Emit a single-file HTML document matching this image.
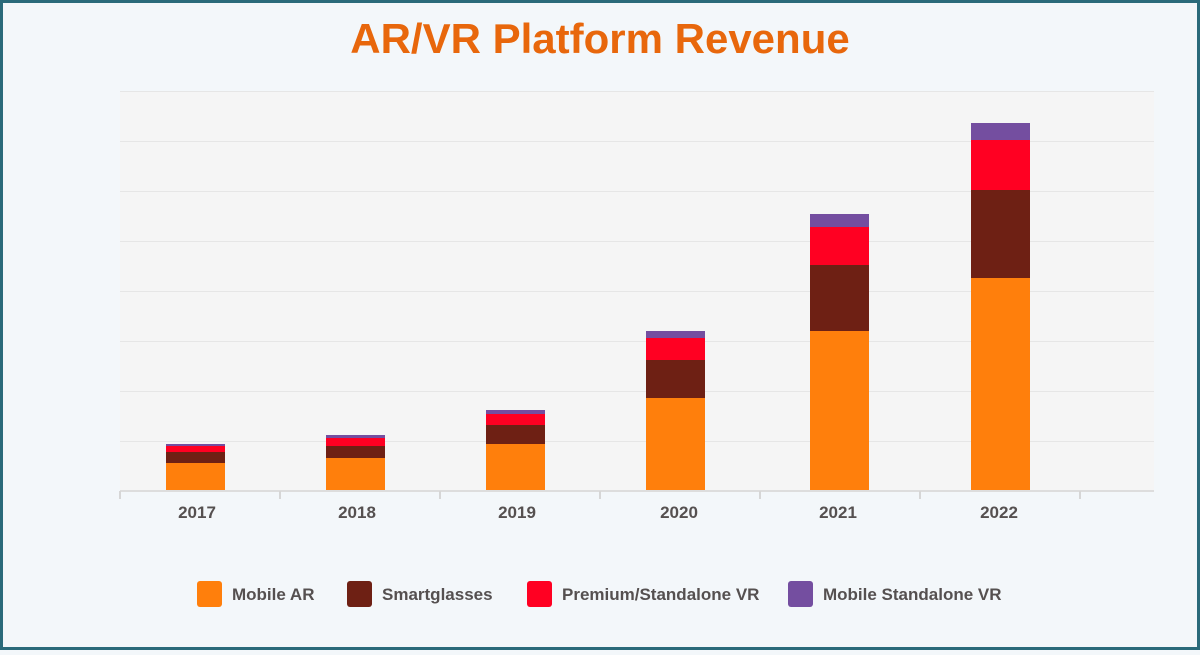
<!DOCTYPE html>
<html><head><meta charset="utf-8"><style>
html,body{margin:0;padding:0;}
body{width:1200px;height:650px;overflow:hidden;background:#f3f7fa;}
</style></head><body>
<svg width="1200" height="650" xmlns="http://www.w3.org/2000/svg" font-family="Liberation Sans, sans-serif">
<rect x="0" y="0" width="1200" height="650" fill="#2a6a7a"/>
<rect x="3" y="3" width="1194" height="644" fill="#f3f7fa"/>
<text x="600" y="53" text-anchor="middle" font-size="42" font-weight="bold" fill="#e8670c">AR/VR Platform Revenue</text>
<rect x="120" y="91" width="1034" height="400" fill="#f5f5f5"/>
<g stroke="#e6e6e6" stroke-width="1">
<line x1="120" y1="91.5" x2="1154" y2="91.5"/><line x1="120" y1="141.5" x2="1154" y2="141.5"/>
<line x1="120" y1="191.5" x2="1154" y2="191.5"/><line x1="120" y1="241.5" x2="1154" y2="241.5"/>
<line x1="120" y1="291.5" x2="1154" y2="291.5"/><line x1="120" y1="341.5" x2="1154" y2="341.5"/>
<line x1="120" y1="391.5" x2="1154" y2="391.5"/><line x1="120" y1="441.5" x2="1154" y2="441.5"/>
</g>
<line x1="120" y1="491" x2="1154" y2="491" stroke="#dddddd" stroke-width="2"/>
<g stroke="#d6d6d6" stroke-width="2">
<line x1="120" y1="491" x2="120" y2="499"/><line x1="280" y1="491" x2="280" y2="499"/>
<line x1="440" y1="491" x2="440" y2="499"/><line x1="600" y1="491" x2="600" y2="499"/>
<line x1="760" y1="491" x2="760" y2="499"/><line x1="920" y1="491" x2="920" y2="499"/>
<line x1="1080" y1="491" x2="1080" y2="499"/>
</g>
<!-- bars -->
<g>
<rect x="166" y="444" width="59" height="2" fill="#744ea0"/><rect x="166" y="446" width="59" height="6" fill="#ff0022"/><rect x="166" y="452" width="59" height="11" fill="#6e2014"/><rect x="166" y="463" width="59" height="27" fill="#ff7f0c"/>
<rect x="326" y="435" width="59" height="3" fill="#744ea0"/><rect x="326" y="438" width="59" height="8" fill="#ff0022"/><rect x="326" y="446" width="59" height="12" fill="#6e2014"/><rect x="326" y="458" width="59" height="32" fill="#ff7f0c"/>
<rect x="486" y="410" width="59" height="4" fill="#744ea0"/><rect x="486" y="414" width="59" height="11" fill="#ff0022"/><rect x="486" y="425" width="59" height="19" fill="#6e2014"/><rect x="486" y="444" width="59" height="46" fill="#ff7f0c"/>
<rect x="646" y="331" width="59" height="7" fill="#744ea0"/><rect x="646" y="338" width="59" height="22" fill="#ff0022"/><rect x="646" y="360" width="59" height="38" fill="#6e2014"/><rect x="646" y="398" width="59" height="92" fill="#ff7f0c"/>
<rect x="810" y="214" width="59" height="13" fill="#744ea0"/><rect x="810" y="227" width="59" height="38" fill="#ff0022"/><rect x="810" y="265" width="59" height="66" fill="#6e2014"/><rect x="810" y="331" width="59" height="159" fill="#ff7f0c"/>
<rect x="971" y="123" width="59" height="17" fill="#744ea0"/><rect x="971" y="140" width="59" height="50" fill="#ff0022"/><rect x="971" y="190" width="59" height="88" fill="#6e2014"/><rect x="971" y="278" width="59" height="212" fill="#ff7f0c"/>
</g>
<g font-size="17" font-weight="bold" fill="#555050" text-anchor="middle">
<text x="197" y="518">2017</text><text x="357" y="518">2018</text><text x="517" y="518">2019</text>
<text x="679" y="518">2020</text><text x="838" y="518">2021</text><text x="999" y="518">2022</text>
</g>
<g font-size="17" font-weight="bold" fill="#555050">
<rect x="197" y="581" width="25" height="26" rx="3" fill="#ff7f0c"/><text x="232" y="600">Mobile AR</text>
<rect x="347" y="581" width="25" height="26" rx="3" fill="#6e2014"/><text x="382" y="600">Smartglasses</text>
<rect x="527" y="581" width="25" height="26" rx="3" fill="#ff0022"/><text x="562" y="600">Premium/Standalone VR</text>
<rect x="788" y="581" width="25" height="26" rx="3" fill="#744ea0"/><text x="823" y="600">Mobile Standalone VR</text>
</g>
</svg>
</body></html>
